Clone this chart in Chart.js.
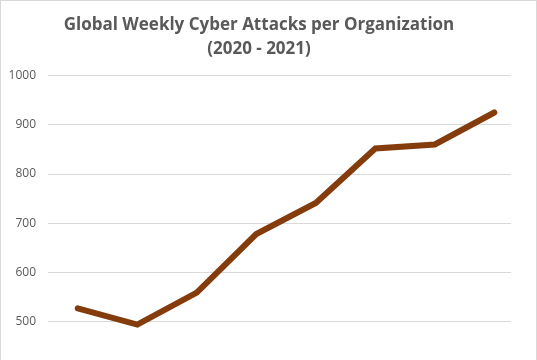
<!DOCTYPE html>
<html>
<head>
<meta charset="utf-8">
<script src="https://cdn.jsdelivr.net/npm/chart.js@4"></script>
<style>
  html, body { margin: 0; padding: 0; background: #fff; overflow: hidden; }
  #wrap { width: 537px; height: 360px; box-sizing: border-box; border: 1px solid #d9d9d9; border-bottom: none; overflow: hidden; }
</style>
</head>
<body>
<div id="wrap"><canvas id="myChart" width="535" height="389"></canvas></div>
<script>
const quarters = ['Q1 2020', 'Q2 2020', 'Q3 2020', 'Q4 2020', 'Q1 2021', 'Q2 2021', 'Q3 2021', 'Q4 2021']
const attacks = [527, 494, 559, 678, 741, 852, 860, 925]
const yTicks = [400, 500, 600, 700, 800, 900, 1000]

const points = attacks.map((v, i) => ({ x: i, y: v }))

const ctx = document.getElementById('myChart')
new Chart(ctx, {
	type: 'line',
	data: {
		datasets: [
			{
				label: 'Weekly attacks',
				data: points,
				borderColor: '#843c0c',
				backgroundColor: '#843c0c',
				borderWidth: 6,
				pointRadius: 0,
				tension: 0,
				borderCapStyle: 'round'
			}
		]
	},
	options: {
		responsive: false,
		animation: false,
		layout: { padding: { left: 6, right: 25, top: 12, bottom: 3 } },
		plugins: {
			legend: { display: false },
			tooltip: { enabled: false },
			title: {
				display: true,
				text: ['Global Weekly Cyber Attacks per Organization', '(2020 - 2021)'],
				color: '#595959',
				font: { family: 'Open Sans', size: 17, weight: 'bold', lineHeight: 1.4 },
				padding: { top: 0, bottom: 15 }
			}
		},
		scales: {
			x: {
				type: 'linear',
				display: false,
				min: -0.5,
				max: 7.28,
				ticks: { callback: (v) => quarters[v] }
			},
			y: {
				min: 400,
				max: 1000,
				afterBuildTicks: (axis) => { axis.ticks = yTicks.map((v) => ({ value: v })) },
				afterFit: (axis) => { axis.width = 41 },
				border: { display: false },
				grid: { color: '#d9d9d9', lineWidth: 1, drawTicks: false },
				ticks: {
					color: '#595959',
					padding: 12,
					font: { family: 'Open Sans', size: 12 },
					callback: (v) => String(v)
				}
			}
		}
	}
})
</script>
</body>
</html>
